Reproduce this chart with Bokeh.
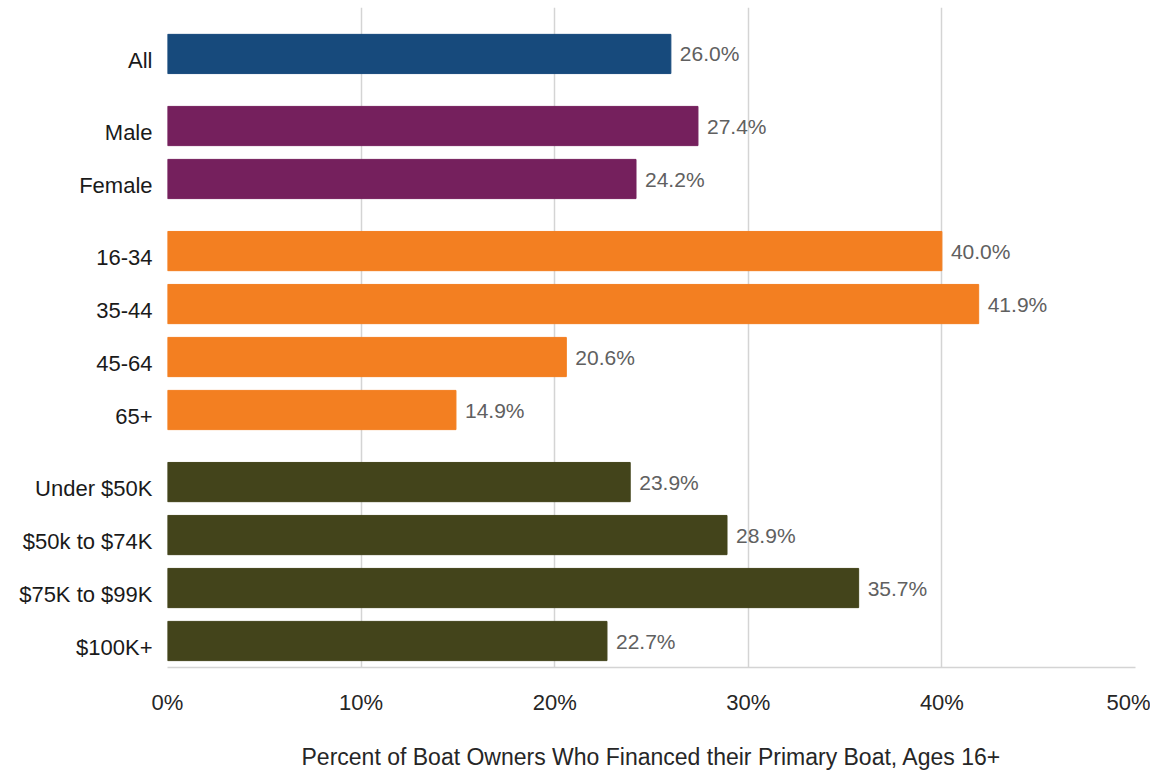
from bokeh.plotting import figure
from bokeh.models import ColumnDataSource, Range1d, FixedTicker
from bokeh.embed import file_html
from bokeh.resources import INLINE

categories = ["All", "Male", "Female", "16-34", "35-44", "45-64", "65+",
              "Under $50K", "$50k to $74K", "$75K to $99K", "$100K+"]
groups = ["All", "Gender", "Gender", "Age", "Age", "Age", "Age",
          "Income", "Income", "Income", "Income"]
values = [26.0, 27.4, 24.2, 40.0, 41.9, 20.6, 14.9, 23.9, 28.9, 35.7, 22.7]
group_colors = {"All": "#174a7c", "Gender": "#75205d", "Age": "#f37f21", "Income": "#43441b"}
x_ticks = [0, 10, 20, 30, 40, 50]
x_title = "Percent of Boat Owners Who Financed their Primary Boat, Ages 16+"

FONT = "Liberation Sans"
GROUP_GAP = 0.36
LABEL_SHIFT = 0.12

pos = []
gi = 0
prev = None
for i, g in enumerate(groups):
    if prev is not None and g != prev:
        gi += 1
    prev = g
    pos.append(round(i + GROUP_GAP * gi, 3))
lab_pos = [round(p_ + LABEL_SHIFT, 3) for p_ in pos]

src = ColumnDataSource(dict(
    cat=categories,
    value=values,
    pos=pos,
    color=[group_colors[g] for g in groups],
    vlabel=[f"{v:.1f}%" for v in values],
))

p = figure(width=1150, height=772, output_backend="svg", toolbar_location=None,
           x_range=Range1d(0, 50), y_range=Range1d(start=pos[-1] + 0.5, end=-0.877),
           min_border_left=167, min_border_right=15, min_border_top=7, min_border_bottom=90)
p.outline_line_color = None
p.background_fill_color = "white"

p.hbar(y="pos", right="value", left=0, height=0.74, color="color", source=src)

# category axis (labels slightly below bar centres, as in the original)
p.yaxis.ticker = FixedTicker(ticks=lab_pos)
p.yaxis.major_label_overrides = {lp: c for lp, c in zip(lab_pos, categories)}
p.yaxis.axis_line_color = None
p.yaxis.major_tick_line_color = None
p.yaxis.minor_tick_line_color = None
p.yaxis.major_label_standoff = 9
p.yaxis.major_label_text_font = FONT
p.yaxis.major_label_text_font_size = "22px"
p.yaxis.major_label_text_color = "#1a1a1a"

p.ygrid.visible = False
p.xgrid.ticker = FixedTicker(ticks=x_ticks)
p.xgrid.grid_line_color = "#d4d4d4"
p.xgrid.grid_line_width = 1.5

p.xaxis.ticker = FixedTicker(ticks=x_ticks)
p.xaxis.major_label_overrides = {t: f"{t}%" for t in x_ticks}
p.xaxis.axis_line_color = "#d4d4d4"
p.xaxis.axis_line_width = 1.5
p.xaxis.major_tick_line_color = None
p.xaxis.minor_tick_line_color = None
p.xaxis.major_label_text_font = FONT
p.xaxis.major_label_text_font_size = "22px"
p.xaxis.major_label_text_color = "#262626"
p.xaxis.major_label_standoff = 16
p.xaxis.axis_label = x_title
p.xaxis.axis_label_text_font = FONT
p.xaxis.axis_label_text_font_size = "23px"
p.xaxis.axis_label_text_font_style = "normal"
p.xaxis.axis_label_text_color = "#262626"
p.xaxis.axis_label_standoff = 26

p.text(x="value", y="pos", text="vlabel", source=src, x_offset=9,
       text_align="left", text_baseline="middle",
       text_font={"value": FONT}, text_font_size="21px", text_color="#606060")

open("out.html", "w").write(file_html(p, INLINE))
